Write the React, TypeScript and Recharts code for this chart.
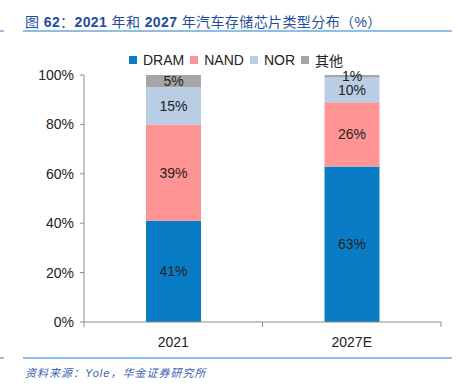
import { BarChart, Bar, XAxis, YAxis, LabelList } from 'recharts';

const years = ['2021', '2027E'];
const dram = [41, 63];
const nand = [39, 26];
const nor = [15, 10];
const others = [5, 1];
const yTicks = [0, 20, 40, 60, 80, 100];

const seriesList = [
  { key: 'dram', name: 'DRAM', color: '#0A7CC5' },
  { key: 'nand', name: 'NAND', color: '#FF9494' },
  { key: 'nor', name: 'NOR', color: '#B9CDE5' },
  { key: 'others', name: '其他', color: '#A6A6A6' },
];

const data = years.map((year, i) => ({
  year,
  dram: dram[i],
  nand: nand[i],
  nor: nor[i],
  others: others[i],
}));

const FONT = '"Liberation Sans", Arial, "Noto Sans CJK SC", sans-serif';
const PLOT_W = 357;

const XTick = ({ x, y, payload }: any) => {
  const half = PLOT_W / years.length / 2;
  return (
    <g>
      <line x1={x - half} x2={x - half} y1={y} y2={y + 5} stroke="#8C8C8C" />
      <line x1={x + half} x2={x + half} y1={y} y2={y + 5} stroke="#8C8C8C" />
      <text x={x} y={y + 25} textAnchor="middle" fontSize={14} fill="#222" fontFamily={FONT}>
        {payload.value}
      </text>
    </g>
  );
};

const LegendRow = () => (
  <div style={{ position: 'absolute', left: 129, top: 50, display: 'flex', alignItems: 'center', fontFamily: FONT, fontSize: 14, color: '#222' }}>
    {seriesList.map((s) => (
      <div key={s.key} style={{ display: 'flex', alignItems: 'center', marginRight: 6 }}>
        <span style={{ width: 8, height: 8, background: s.color, display: 'inline-block', marginRight: 6 }} />
        <span>{s.name}</span>
      </div>
    ))}
  </div>
);

export default function App() {
  return (
    <div style={{ position: 'relative', width: 458, height: 388, background: '#fff', overflow: 'hidden' }}>
      <style>{`body{margin:0}`}</style>
      <div style={{ position: 'absolute', left: 25, top: 11, fontSize: 14, letterSpacing: 0.4, color: '#1F4E9C', fontFamily: FONT, whiteSpace: 'nowrap' }}>
        图 <b>62</b>：<b>2021</b> 年和 <b>2027</b> 年汽车存储芯片类型分布（%）
      </div>
      <div style={{ position: 'absolute', left: 0, top: 30, width: 4, height: 2, background: '#8FBDE6' }} />
      <div style={{ position: 'absolute', left: 23, top: 30, width: 429, height: 2, background: '#8FBDE6' }} />
      <LegendRow />
      <div style={{ position: 'absolute', left: 0, top: 0 }}>
        <BarChart width={458} height={388} data={data} margin={{ top: 75, right: 17, left: 0, bottom: 36 }}>
          <YAxis
            width={84}
            domain={[0, 100]}
            ticks={yTicks}
            tickFormatter={(v: number) => `${v}%`}
            axisLine={{ stroke: '#8C8C8C' }}
            tickLine={{ stroke: '#8C8C8C' }}
            tickSize={4}
            tickMargin={6}
            tick={{ fontSize: 14, fill: '#222', fontFamily: FONT }}
          />
          <XAxis
            dataKey="year"
            height={30}
            axisLine={{ stroke: '#8C8C8C' }}
            tickLine={false}
            tickSize={0}
            tickMargin={0}
            tick={<XTick />}
          />
          {seriesList.map((s) => (
            <Bar key={s.key} dataKey={s.key} name={s.name} stackId="a" fill={s.color} barSize={55} isAnimationActive={false}>
              <LabelList dataKey={s.key} position="center" formatter={(v: any) => `${v}%`} fill="#222" fontSize={14} fontFamily={FONT} />
            </Bar>
          ))}
        </BarChart>
      </div>
      <div style={{ position: 'absolute', left: 0, top: 357, width: 4, height: 2, background: '#8FBDE6' }} />
      <div style={{ position: 'absolute', left: 23, top: 357, width: 429, height: 2, background: '#8FBDE6' }} />
      <div style={{ position: 'absolute', left: 25, top: 364, fontSize: 11, letterSpacing: 1, fontStyle: 'italic', color: '#3A62B0', fontFamily: FONT, whiteSpace: 'nowrap' }}>
        资料来源：Yole，华金证券研究所
      </div>
    </div>
  );
}
